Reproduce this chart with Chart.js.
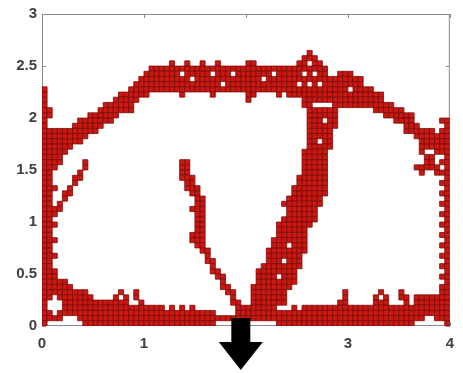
<!DOCTYPE html>
<html>
<head>
<meta charset="utf-8">
<script src="https://cdn.jsdelivr.net/npm/chart.js@4/dist/chart.umd.min.js"></script>
<style>
  html, body { margin: 0; padding: 0; background: #fff; }
  #wrap { width: 463px; height: 373px; }
</style>
</head>
<body>
<div id="wrap"><canvas id="chart" width="463" height="373"></canvas></div>
<script>
// Material layout: 80 x 60 grid of 0.05-wide elements.
// Row 0 is the top row (y = 3). Each row lists its filled column runs [from, to].
const cellSize = 0.05;
const gridTop = 3;
const cellRuns = [
  [], [], [], [], [], [], [],
  [[52, 52]],
  [[51, 53]],
  [[25, 25], [28, 28], [31, 31], [34, 34], [40, 41], [50, 51], [53, 54]],
  [[21, 55]],                                                                   // 10
  [[20, 26], [28, 32], [34, 36], [38, 44], [46, 50], [52, 52], [54, 55], [58, 60]],
  [[19, 28], [30, 42], [44, 62]],
  [[18, 34], [36, 49], [51, 51], [53, 53], [55, 62]],
  [[0, 0], [17, 59], [61, 64]],
  [[0, 0], [15, 20], [27, 27], [33, 33], [40, 41], [46, 46], [48, 66]],
  [[0, 0], [14, 18], [40, 40], [51, 66]],
  [[0, 0], [12, 17], [51, 52], [57, 68]],
  [[0, 1], [11, 17], [52, 57], [65, 70]],
  [[0, 1], [9, 14], [52, 57], [67, 72]],
  [[0, 0], [7, 13], [52, 54], [56, 57], [69, 72], [78, 79]],                   // 20
  [[0, 0], [6, 11], [52, 57], [71, 73], [79, 79]],
  [[0, 10], [52, 56], [71, 76], [78, 79]],
  [[0, 8], [52, 56], [73, 79]],
  [[0, 7], [52, 53], [55, 56], [74, 79]],
  [[0, 5], [52, 56], [74, 79]],
  [[0, 4], [51, 55], [74, 74], [77, 79]],
  [[0, 3], [51, 55], [75, 76], [79, 79]],
  [[0, 3], [8, 8], [27, 28], [51, 55], [75, 76], [78, 79]],
  [[0, 2], [8, 8], [27, 28], [51, 55], [73, 77], [79, 79]],
  [[0, 1], [7, 7], [27, 28], [51, 55], [74, 74], [77, 79]],                    // 30
  [[0, 1], [6, 7], [27, 29], [50, 55], [79, 79]],
  [[0, 1], [6, 6], [28, 29], [50, 55], [78, 79]],
  [[0, 2], [5, 5], [28, 30], [49, 55], [79, 79]],
  [[0, 1], [4, 5], [29, 30], [49, 55], [78, 79]],
  [[0, 1], [4, 4], [30, 31], [48, 54], [79, 79]],
  [[0, 1], [3, 3], [30, 31], [47, 54], [78, 79]],
  [[0, 3], [29, 31], [48, 53], [79, 79]],
  [[0, 2], [30, 31], [48, 53], [78, 79]],
  [[0, 1], [30, 31], [47, 53], [79, 79]],
  [[0, 2], [30, 31], [46, 52], [78, 79]],                                       // 40
  [[0, 1], [30, 31], [46, 51], [79, 79]],
  [[0, 1], [29, 31], [46, 51], [78, 79]],
  [[0, 2], [29, 31], [45, 51], [79, 79]],
  [[0, 1], [30, 31], [45, 47], [49, 51], [78, 79]],
  [[0, 1], [31, 32], [44, 51], [79, 79]],
  [[0, 2], [32, 32], [44, 50], [78, 79]],
  [[0, 1], [32, 33], [44, 46], [48, 50], [79, 79]],
  [[0, 1], [33, 33], [43, 50], [78, 79]],
  [[0, 2], [33, 34], [42, 49], [79, 79]],
  [[0, 2], [34, 35], [42, 45], [47, 49], [78, 79]],                            // 50
  [[0, 4], [35, 35], [42, 49], [79, 79]],
  [[0, 5], [35, 36], [41, 48], [78, 79]],
  [[0, 8], [15, 15], [18, 18], [36, 37], [41, 47], [59, 59], [66, 66], [70, 70], [78, 79]],
  [[0, 1], [3, 9], [14, 14], [16, 16], [18, 18], [37, 37], [41, 47], [59, 59], [65, 65], [67, 67], [70, 71], [73, 79]],
  [[0, 0], [4, 16], [19, 19], [37, 38], [41, 47], [58, 59], [65, 67], [71, 71], [73, 79]],
  [[0, 0], [4, 23], [25, 25], [27, 27], [29, 29], [38, 45], [49, 49], [51, 79]],
  [[0, 1], [3, 33], [38, 79]],
  [[0, 3], [7, 74], [77, 79]],
  [[0, 0], [8, 33], [46, 72], [79, 79]],
];

const xTicks = [0, 1, 2, 3, 4];
const xTickLabels = ["0", "1", "2", "3", "4"];
const yTicks = [0, 0.5, 1, 1.5, 2, 2.5, 3];
const yTickLabels = ["0", "0.5", "1", "1.5", "2", "2.5", "3"];
const loadX = 1.95;   // position of the downward load arrow

// expand the runs into element centres
const cells = [];
cellRuns.forEach((runs, r) => {
  runs.forEach(([a, b]) => {
    for (let c = a; c <= b; c++) {
      cells.push({ x: (c + 0.5) * cellSize, y: gridTop - (r + 0.5) * cellSize });
    }
  });
});

const tickFont = { family: "'Liberation Sans', Arial, sans-serif", size: 15, weight: "bold" };
const tickColor = "#404040";

// square side = one element width in pixels
const cellRadius = (ctx) => {
  const s = ctx.chart.scales.x;
  return Math.abs(s.getPixelForValue(cellSize) - s.getPixelForValue(0)) * Math.SQRT1_2;
};

const boxPlugin = {
  id: "box",
  beforeDatasetsDraw(chart) {
    const { ctx, chartArea: a, scales } = chart;
    ctx.save();
    ctx.strokeStyle = "#8a8a8a";
    ctx.lineWidth = 1;
    ctx.strokeRect(a.left + 0.5, a.top + 0.5, a.right - a.left - 1, a.bottom - a.top - 1);
    ctx.beginPath();
    xTicks.forEach((v) => {
      const px = Math.round(scales.x.getPixelForValue(v)) + 0.5;
      ctx.moveTo(px, a.bottom); ctx.lineTo(px, a.bottom - 4);
      ctx.moveTo(px, a.top); ctx.lineTo(px, a.top + 4);
    });
    yTicks.forEach((v) => {
      const py = Math.round(scales.y.getPixelForValue(v)) + 0.5;
      ctx.moveTo(a.left, py); ctx.lineTo(a.left + 4, py);
      ctx.moveTo(a.right, py); ctx.lineTo(a.right - 4, py);
    });
    ctx.stroke();
    ctx.restore();
  },
  afterDraw(chart) {
    // load arrow under the support gap
    const { ctx, chartArea: a, scales } = chart;
    const x = scales.x.getPixelForValue(loadX);
    const top = a.bottom - 8, neck = a.bottom + 16, tip = a.bottom + 44;
    ctx.save();
    ctx.fillStyle = "#000";
    ctx.beginPath();
    ctx.moveTo(x - 9.5, top);
    ctx.lineTo(x + 9.5, top);
    ctx.lineTo(x + 9.5, neck);
    ctx.lineTo(x + 22, neck);
    ctx.lineTo(x, tip);
    ctx.lineTo(x - 22, neck);
    ctx.lineTo(x - 9.5, neck);
    ctx.closePath();
    ctx.fill();
    ctx.restore();
  },
};

new Chart(document.getElementById("chart"), {
  type: "scatter",
  data: {
    datasets: [{
      data: cells,
      pointStyle: "rect",
      pointRadius: cellRadius,
      pointHoverRadius: cellRadius,
      backgroundColor: "#cc1812",
      borderColor: "#7a0b08",
      borderWidth: 0.8,
    }],
  },
  options: {
    responsive: false,
    animation: false,
    layout: { padding: { left: 0, right: 8, top: 14, bottom: 0 } },
    plugins: { legend: { display: false }, tooltip: { enabled: false } },
    scales: {
      x: {
        type: "linear", min: 0, max: 4,
        afterBuildTicks: (s) => { s.ticks = xTicks.map((v) => ({ value: v })); },
        afterFit: (s) => { s.height = 47; },
        grid: { display: false, drawTicks: false },
        border: { display: false },
        ticks: {
          autoSkip: false, padding: 9, font: tickFont, color: tickColor,
          callback: (v, i) => xTickLabels[i],
        },
      },
      y: {
        type: "linear", min: 0, max: 3,
        afterBuildTicks: (s) => { s.ticks = yTicks.map((v) => ({ value: v })); },
        afterFit: (s) => { s.width = 42; },
        grid: { display: false, drawTicks: false },
        border: { display: false },
        ticks: {
          autoSkip: false, padding: 5, font: tickFont, color: tickColor,
          callback: (v, i) => yTickLabels[i],
        },
      },
    },
  },
  plugins: [boxPlugin],
});
</script>
</body>
</html>
